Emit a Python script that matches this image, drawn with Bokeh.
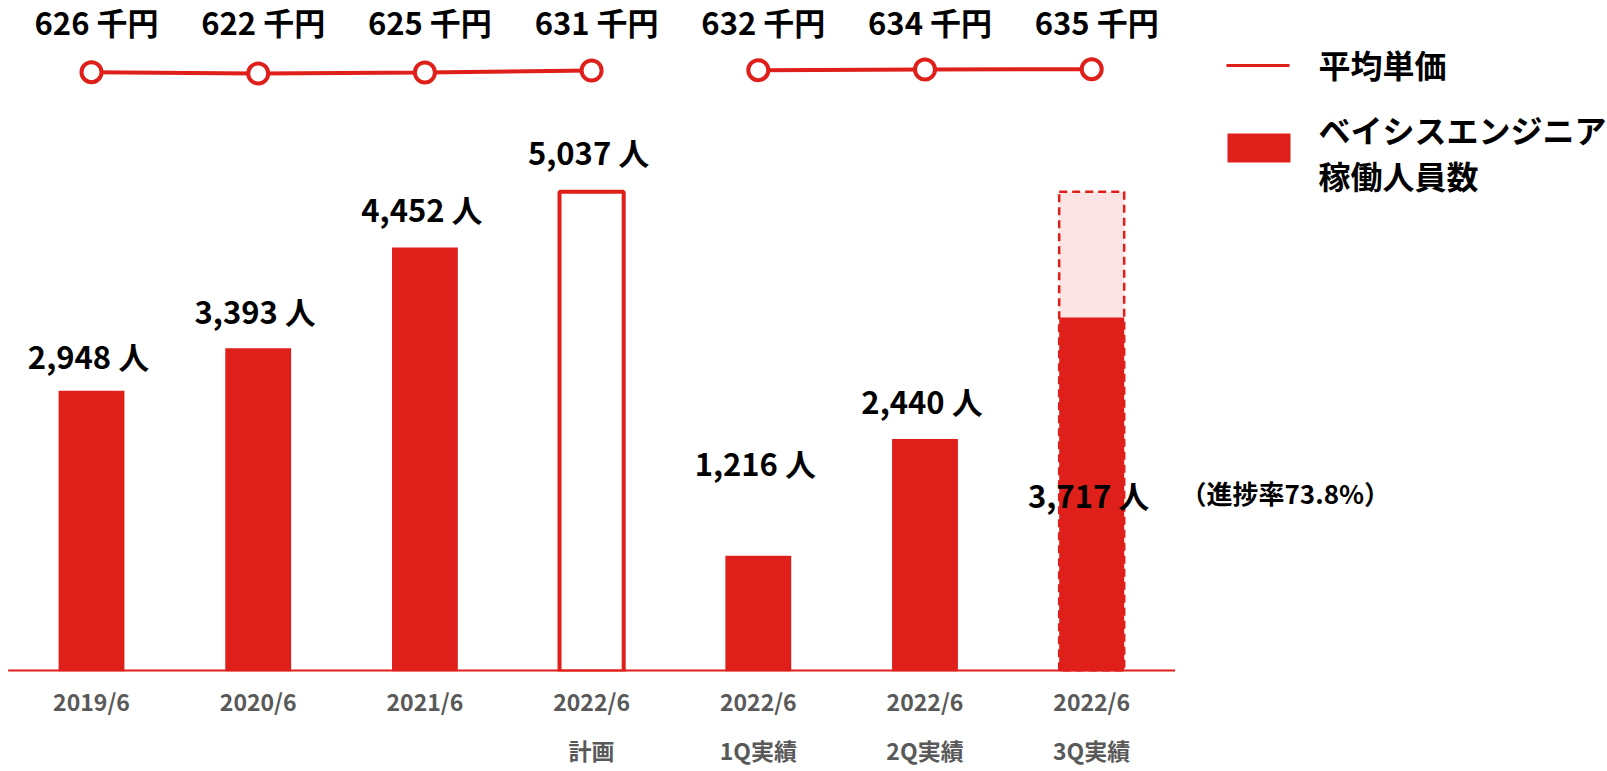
from bokeh.plotting import figure
from bokeh.models import Range1d, LinearAxis, FixedTicker, ColumnDataSource
from bokeh.core.properties import value
from bokeh.embed import file_html
from bokeh.resources import INLINE

# ---------------- data ----------------
periods = ["2019/6", "2020/6", "2021/6", "2022/6", "2022/6", "2022/6", "2022/6"]
period_sub = ["", "", "", "計画", "1Q実績", "2Q実績", "3Q実績"]
engineers = [2948, 3393, 4452, 5037, 1216, 2440, 3717]
unit_price = [626, 622, 625, 631, 632, 634, 635]
plan_index = 3
progress_index = 6
progress_rate = 73.8
legend_line_label = "平均単価"
legend_bar_label = ["ベイシスエンジニア", "稼働人員数"]

# ---------------- style ----------------
RED = "#DF1F1A"
PINK = "#FBE4E3"
GRAY = "#595959"
FONT = "Noto Sans CJK JP"

W, H = 1607, 771
BOTTOM = 100
FRAME_H = H - BOTTOM
UPP = 10.5            # people per pixel
CAT_PX = 166.7        # pixels per category
x_start = -91 / CAT_PX
x_end = x_start + W / CAT_PX

p = figure(width=W, height=H, x_range=Range1d(x_start, x_end),
           y_range=Range1d(0, FRAME_H * UPP),
           output_backend="svg", toolbar_location=None, y_axis_location=None,
           min_border_left=0, min_border_right=0, min_border_top=0,
           min_border_bottom=BOTTOM, background_fill_color="white",
           border_fill_color="white", outline_line_color=None)
p.grid.visible = False

# secondary range for the unit price line
px_per_unit = 0.33
price_ref = 628
ref_px_top = 71
p.extra_y_ranges = {"price": Range1d(price_ref - (FRAME_H - ref_px_top) / px_per_unit,
                                     price_ref + ref_px_top / px_per_unit)}

idx = list(range(len(periods)))

def page_x(px):
    return x_start + px / W * (x_end - x_start)

def page_y(py):
    return (FRAME_H - py) * UPP

# ---------------- bars ----------------
solid = [i for i in idx if i not in (plan_index, progress_index)]
src_solid = ColumnDataSource(dict(x=solid, top=[engineers[i] for i in solid]))
p.vbar(x="x", top="top", width=0.395, source=src_solid, fill_color=RED, line_color=None)

# plan bar (outline)
p.vbar(x=[plan_index], top=[engineers[plan_index]], width=0.385,
       fill_color="white", line_color=RED, line_width=4)

# progress bar: dashed target box + actual
p.vbar(x=[progress_index], top=[engineers[plan_index]], width=0.39,
       fill_color=PINK, line_color=RED, line_width=2.5, line_dash="8 5")
p.vbar(x=[progress_index], top=[engineers[progress_index]], width=0.39,
       fill_color=RED, line_color=None)

# baseline
p.segment(x0=[-0.5], x1=[len(periods) - 0.5], y0=[0], y1=[0],
          line_color=RED, line_width=4)

# bar labels
label_off = [-35, -38, -39, -40, -93, -39]
lab_idx = [i for i in idx if i != progress_index]
p.text(x=lab_idx, y=[engineers[i] for i in lab_idx],
       text=[f"{engineers[i]:,} 人" for i in lab_idx],
       y_offset=[label_off[k] for k in range(len(lab_idx))], x_offset=-3,
       text_align="center", text_baseline="middle",
       text_font=value(FONT), text_font_style="bold", text_font_size="31px",
       text_color="black")
p.text(x=[progress_index], y=[engineers[progress_index] / 2],
       text=[f"{engineers[progress_index]:,} 人"], y_offset=0, x_offset=-3,
       text_align="center", text_baseline="middle",
       text_font=value(FONT), text_font_style="bold", text_font_size="31px",
       text_color="black")
p.text(x=[page_x(1180)], y=[page_y(492)], text=[f"（進捗率{progress_rate}%）"],
       text_align="left", text_baseline="middle",
       text_font=value(FONT), text_font_style="bold", text_font_size="26px",
       text_color="black")

# ---------------- price line ----------------
seg1 = idx[:plan_index + 1]
seg2 = idx[plan_index + 1:]
for seg in (seg1, seg2):
    p.line(x=seg, y=[unit_price[i] for i in seg], y_range_name="price",
           line_color=RED, line_width=4)
p.scatter(x=idx, y=unit_price, y_range_name="price", marker="circle", size=20,
          fill_color="white", line_color=RED, line_width=4)
p.text(x=idx, y=[price_ref] * len(idx), y_range_name="price",
       text=[f"{v} 千円" for v in unit_price], y_offset=-50, x_offset=5,
       text_align="center", text_baseline="middle",
       text_font=value(FONT), text_font_style="bold", text_font_size="31px",
       text_color="black")

# ---------------- legend ----------------
p.segment(x0=[page_x(1226)], x1=[page_x(1289)], y0=[page_y(65)], y1=[page_y(65)],
          line_color=RED, line_width=3)
p.quad(left=[page_x(1227)], right=[page_x(1290)], top=[page_y(133)],
       bottom=[page_y(162)], fill_color=RED, line_color=None)
p.text(x=[page_x(1318)] * 3, y=[page_y(63), page_y(128), page_y(174)],
       text=[legend_line_label] + legend_bar_label,
       text_align="left", text_baseline="middle",
       text_font=value(FONT), text_font_style="bold", text_font_size="32px",
       text_color="black")

# ---------------- axes ----------------
ax = p.xaxis[0]
ax.ticker = FixedTicker(ticks=idx)
ax.major_label_overrides = {i: periods[i] for i in idx}
ax.axis_line_color = None
ax.major_tick_line_color = None
ax.minor_tick_line_color = None
ax.major_tick_out = 0
ax.major_tick_in = 0
ax.major_label_standoff = 12
ax.major_label_text_font = FONT
ax.major_label_text_font_style = "bold"
ax.major_label_text_font_size = "23px"
ax.major_label_text_color = GRAY

ax2 = LinearAxis(ticker=FixedTicker(ticks=idx),
                 major_label_overrides={i: (period_sub[i] if period_sub[i] else " ") for i in idx})
ax2.axis_line_color = None
ax2.major_tick_line_color = None
ax2.minor_tick_line_color = None
ax2.major_tick_out = 0
ax2.major_tick_in = 0
ax2.major_label_standoff = 12
ax2.major_label_text_font = FONT
ax2.major_label_text_font_style = "bold"
ax2.major_label_text_font_size = "23px"
ax2.major_label_text_color = GRAY
p.add_layout(ax2, "below")

open("out.html", "w").write(file_html(p, INLINE))
